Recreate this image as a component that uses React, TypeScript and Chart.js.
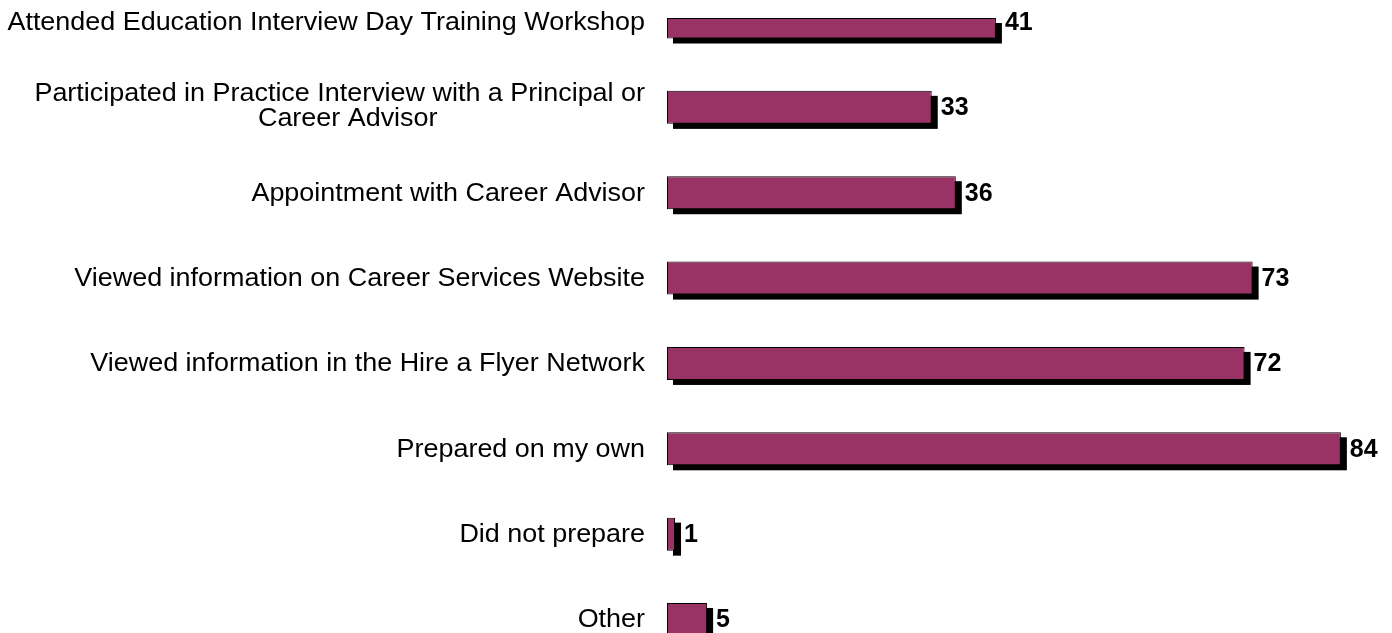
import React, { useEffect, useRef } from "react";
import { Chart, registerables } from "chart.js";

Chart.register(...registerables);

const categories: (string | string[])[] = [
  "Attended Education Interview Day Training Workshop",
  ["Participated in Practice Interview with a Principal or", "Career Advisor"],
  "Appointment with Career Advisor",
  "Viewed information on Career Services Website",
  "Viewed information in the Hire a Flyer Network",
  "Prepared on my own",
  "Did not prepare",
  "Other",
];

const counts: number[] = [41, 33, 36, 73, 72, 84, 1, 5];

const BAR_COLOR = "#993366";
const FONT = "Liberation Sans, Arial, sans-serif";
const LABEL_STRETCH = 1.077;

const shadowAndLabels = {
  id: "shadowAndLabels",
  beforeDatasetsDraw(chart: any) {
    const ctx = chart.ctx;
    const meta = chart.getDatasetMeta(0);
    const clipTop = chart.chartArea.top - 4;
    ctx.save();
    ctx.fillStyle = "#000";
    meta.data.forEach((bar: any) => {
      const { x, y, base, height } = bar.getProps(["x", "y", "base", "height"], true);
      const top = Math.max(y - height / 2, clipTop);
      const bottom = y + height / 2;
      ctx.fillRect(base + 6, top + 5, x - base, bottom - top);
    });
    ctx.restore();
  },
  afterDatasetsDraw(chart: any) {
    const ctx = chart.ctx;
    const meta = chart.getDatasetMeta(0);
    const yScale = chart.scales.y;
    const area = chart.chartArea;
    ctx.save();
    // top border for clipped first bar
    const first = meta.data[0];
    if (first) {
      const { x, y, base, height } = first.getProps(["x", "y", "base", "height"], true);
      const clipTop = area.top - 4;
      if (y - height / 2 < clipTop) {
        ctx.fillStyle = "#000";
        ctx.fillRect(base, clipTop, x - base, 1);
      }
    }
    // value labels
    ctx.fillStyle = "#000";
    ctx.font = `bold 25px ${FONT}`;
    ctx.textAlign = "left";
    ctx.textBaseline = "middle";
    meta.data.forEach((bar: any, i: number) => {
      const { x, y } = bar.getProps(["x", "y"], true);
      ctx.fillText(String(counts[i]), x + 9, y + 1);
    });
    // category labels
    ctx.font = `25px ${FONT}`;
    ctx.textBaseline = "middle";
    ctx.textAlign = "center";
    const right = area.left - 22;
    const lineH = 25;
    categories.forEach((cat, i) => {
      const lines = Array.isArray(cat) ? cat : [cat];
      const yc = yScale.getPixelForValue(i) + 1;
      const widths = lines.map((l) => ctx.measureText(l).width * LABEL_STRETCH);
      const maxW = Math.max(...widths);
      const cx = right - maxW / 2;
      lines.forEach((l, j) => {
        const ly = yc + (j - (lines.length - 1) / 2) * lineH - (lines.length > 1 ? 2 : 0);
        ctx.save();
        ctx.translate(cx + (j > 0 ? 8 : 0), ly);
        ctx.scale(LABEL_STRETCH, 1);
        ctx.fillText(l, 0, 0);
        ctx.restore();
      });
    });
    ctx.restore();
  },
};

export default function App() {
  const ref = useRef<HTMLCanvasElement | null>(null);
  useEffect(() => {
    if (!ref.current) return;
    const chart = new Chart(ref.current, {
      type: "bar",
      data: {
        labels: categories.map((c) => (Array.isArray(c) ? c.join(" ") : c)),
        datasets: [
          {
            data: counts,
            backgroundColor: BAR_COLOR,
            borderColor: "#000",
            borderWidth: 1,
            borderSkipped: false,
            barPercentage: 0.387,
            categoryPercentage: 1,
            clip: { top: 4, left: false, right: false, bottom: false } as any,
          },
        ],
      },
      options: {
        indexAxis: "y",
        animation: false,
        responsive: false,
        maintainAspectRatio: false,
        layout: { padding: { left: 667, right: 3, top: 22, bottom: 13.5 } },
        plugins: {
          legend: { display: false },
          tooltip: { enabled: false },
        },
        scales: {
          x: { display: false, min: 0, max: 90 },
          y: { display: false, offset: false },
        },
      },
      plugins: [shadowAndLabels],
    });
    return () => chart.destroy();
  }, []);
  return (
    <div style={{ position: "absolute", left: 0, top: 0, width: 1392, height: 633, background: "#fff" }}>
      <canvas ref={ref} width={1392} height={633} style={{ display: "block" }} />
    </div>
  );
}
